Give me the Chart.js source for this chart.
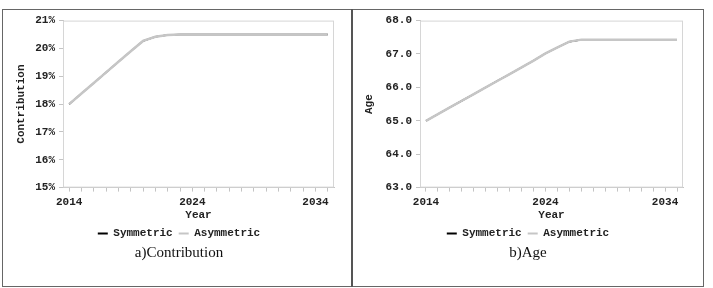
<!DOCTYPE html>
<html>
<head>
<meta charset="utf-8">
<script src="https://cdn.jsdelivr.net/npm/chart.js@4.4.1/dist/chart.umd.min.js"></script>
<style>
  body { margin: 0; background: #fff; width: 713px; height: 288px; position: relative; overflow: hidden; }
  .frame { position: absolute; left: 2px; top: 9px; width: 702px; height: 278px; border: 1px solid #666; box-sizing: border-box; }
  .sep { position: absolute; left: 351px; top: 9px; width: 2px; height: 278px; background: #555; }
  .panel { position: absolute; top: 10px; }
</style>
</head>
<body>
<div class="frame"></div>
<div class="sep"></div>
<div class="panel" style="left:3px"><canvas id="chartContrib" width="348" height="275"></canvas></div>
<div class="panel" style="left:353px"><canvas id="chartAge" width="349" height="275"></canvas></div>
<script>
// --- données ---
const years = [2014, 2015, 2016, 2017, 2018, 2019, 2020, 2021, 2022, 2023, 2024,
               2025, 2026, 2027, 2028, 2029, 2030, 2031, 2032, 2033, 2034, 2035];
const xTickLabels = [2014, 2024, 2034];

const contribSymmetric  = [18.0, 18.38, 18.76, 19.14, 19.52, 19.9, 20.27, 20.42, 20.48, 20.5, 20.5,
                           20.5, 20.5, 20.5, 20.5, 20.5, 20.5, 20.5, 20.5, 20.5, 20.5, 20.5];
const contribAsymmetric = [18.0, 18.38, 18.76, 19.14, 19.52, 19.9, 20.27, 20.42, 20.48, 20.5, 20.5,
                           20.5, 20.5, 20.5, 20.5, 20.5, 20.5, 20.5, 20.5, 20.5, 20.5, 20.5];

const ageSymmetric  = [65.0, 65.2, 65.4, 65.6, 65.8, 66.0, 66.2, 66.4, 66.6, 66.8, 67.02,
                       67.2, 67.37, 67.43, 67.43, 67.43, 67.43, 67.43, 67.43, 67.43, 67.43, 67.43];
const ageAsymmetric = [65.0, 65.2, 65.4, 65.6, 65.8, 66.0, 66.2, 66.4, 66.6, 66.8, 67.02,
                       67.2, 67.37, 67.43, 67.43, 67.43, 67.43, 67.43, 67.43, 67.43, 67.43, 67.43];

const MONO = { family: "'Liberation Mono', 'DejaVu Sans Mono', monospace", size: 11, weight: 'bold' };
const TEXT = '#222';
const AXIS = '#c4c4c4';

// cadre gris clair autour de la zone de tracé
const plotFrame = {
  id: 'plotFrame',
  beforeDatasetsDraw(chart) {
    const { ctx, chartArea: a } = chart;
    ctx.save();
    ctx.strokeStyle = '#d6d6d6';
    ctx.lineWidth = 1;
    ctx.strokeRect(a.left + 0.5, a.top + 0.5, a.width - 1, a.height - 1);
    ctx.restore();
  },
};

function makeChart(id, cfg) {
  return new Chart(document.getElementById(id), {
    type: 'line',
    data: {
      labels: years,
      datasets: [
        { label: 'Symmetric',  data: cfg.sym,  borderColor: '#000', backgroundColor: '#000', borderWidth: 1.5 },
        { label: 'Asymmetric', data: cfg.asym, borderColor: '#c6c6c6', backgroundColor: '#c6c6c6', borderWidth: 2.5 },
      ].map((d, i) => ({ ...d, pointRadius: 0, tension: 0, order: 1 - i })),
    },
    options: {
      responsive: false,
      animation: false,
      layout: { padding: { top: 9, right: cfg.right, bottom: 23, left: cfg.left } },
      plugins: {
        tooltip: { enabled: false },
        legend: {
          position: 'bottom',
          labels: {
            font: MONO, color: TEXT, boxWidth: 10, boxHeight: 2, padding: 6,
            sort: (a, b) => a.datasetIndex - b.datasetIndex,
            generateLabels: chart => Chart.defaults.plugins.legend.labels.generateLabels(chart)
              .map(l => ({ ...l, lineWidth: 0, fillStyle: l.strokeStyle })),
          },
        },
        title: {
          display: true, position: 'bottom', text: cfg.caption, color: '#111',
          font: { family: "'Liberation Serif', 'Times New Roman', serif", size: 15, weight: 'normal' },
          padding: { top: -5, bottom: 0 },
        },
      },
      scales: {
        x: {
          type: 'category', offset: true,
          grid: { drawOnChartArea: false, tickLength: 4, color: AXIS },
          border: { color: AXIS },
          ticks: {
            autoSkip: false, maxRotation: 0, font: MONO, color: TEXT, padding: 4,
            callback: (v, i) => xTickLabels.includes(years[i]) ? String(years[i]) : '',
          },
          title: { display: true, text: 'Year', font: MONO, color: TEXT, padding: { top: -4, bottom: 0 } },
        },
        y: {
          min: cfg.min, max: cfg.max,
          afterFit: s => { s.width = cfg.yWidth; },
          grid: { drawOnChartArea: false, tickLength: 4, color: AXIS },
          border: { color: AXIS },
          ticks: { stepSize: 1, font: MONO, color: TEXT, padding: 4, callback: cfg.fmt },
          title: { display: true, text: cfg.yTitle, font: MONO, color: TEXT, padding: { top: cfg.titlePad, bottom: 0 } },
        },
      },
    },
    plugins: [plotFrame],
  });
}

makeChart('chartContrib', {
  sym: contribSymmetric, asym: contribAsymmetric, min: 15, max: 21,
  fmt: v => v + '%', yTitle: 'Contribution', caption: 'a)Contribution',
  left: 21, right: 17, yWidth: 39, titlePad: -9.6,
});

makeChart('chartAge', {
  sym: ageSymmetric, asym: ageAsymmetric, min: 63, max: 68,
  fmt: v => v.toFixed(1), yTitle: 'Age', caption: 'b)Age',
  left: 20, right: 19, yWidth: 47, titlePad: -10.6,
});
</script>
</body>
</html>
